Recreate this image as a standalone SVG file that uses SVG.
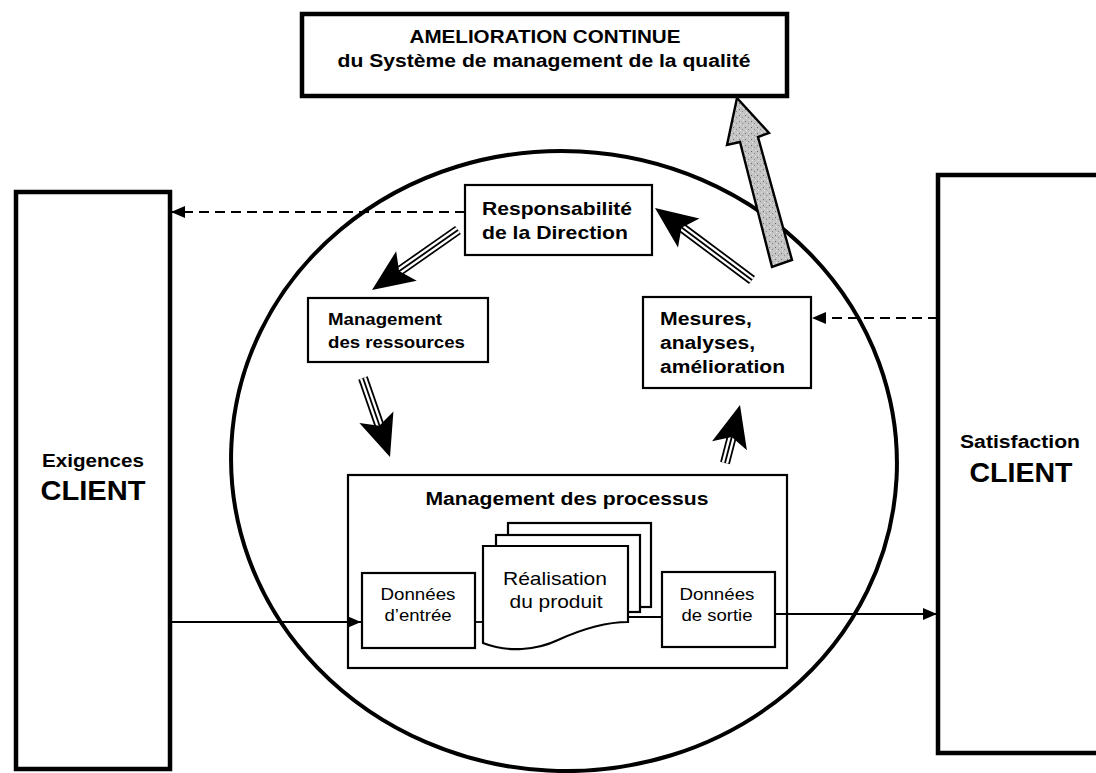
<svg xmlns="http://www.w3.org/2000/svg" xmlns:xlink="http://www.w3.org/1999/xlink" width="1096" height="773" viewBox="0 0 1096 773">
<style>
text{font-family:"Liberation Sans",Arial,Helvetica,sans-serif;fill:#000}
.b{font-weight:bold}
.n{font-weight:normal}
.box{fill:#fff;stroke:#000;stroke-width:2.2}
.frame{fill:none;stroke:#000;stroke-width:2.2}
.thick{fill:#fff;stroke:#000;stroke-width:4.5}
.dash{stroke:#000;stroke-width:2;stroke-dasharray:10 6;fill:none}
.line{stroke:#000;stroke-width:1.8;fill:none}
use.s1{stroke:#000;stroke-width:10;fill:none}
use.s2{stroke:#fff;stroke-width:6.5;fill:none}
use.s3{stroke:#000;stroke-width:1.8;fill:none}
</style>
<defs>
<marker id="ah" markerUnits="userSpaceOnUse" markerWidth="16" markerHeight="12" refX="14" refY="6" orient="auto">
<path d="M0,0 L14,6 L0,12 Z" fill="#000"/>
</marker>
<path id="hd" d="M0,0 L-42,-18 L-33,0 L-42,18 Z" fill="#000"/>
<path id="a1" d="M458,230 L398,272"/>
<path id="a2" d="M363,378 L380,427"/>
<path id="a3" d="M725,463 L732,436"/>
<path id="a4" d="M752,280 L681,227"/>
<pattern id="speck" width="6" height="6" patternUnits="userSpaceOnUse">
<rect width="6" height="6" fill="#c4c4c4"/>
<rect x="1" y="1" width="1" height="1" fill="#6e6e6e"/>
<rect x="4" y="3" width="1" height="1" fill="#8a8a8a"/>
<rect x="2" y="4" width="1" height="1" fill="#e8e8e8"/>
<rect x="5" y="0" width="1" height="1" fill="#e0e0e0"/>
</pattern>
</defs>
<rect width="1096" height="773" fill="#fff"/>

<g id="cycle">
<ellipse cx="564" cy="461" rx="333" ry="310" transform="rotate(3 564 461)" fill="none" stroke="#000" stroke-width="4"/>
</g>

<g id="processus">
<rect class="frame" x="348" y="475" width="439" height="193"/>
<text class="b" x="567" y="505" font-size="18" text-anchor="middle" textLength="283" lengthAdjust="spacingAndGlyphs">Management des processus</text>
</g>

<g id="connectors">
<line class="dash" x1="465" y1="212" x2="171" y2="212" marker-end="url(#ah)"/>
<line class="dash" x1="938" y1="318" x2="812" y2="318" marker-end="url(#ah)"/>
<line class="line" x1="172" y1="622" x2="361" y2="622" marker-end="url(#ah)"/>
<line class="line" x1="775" y1="614" x2="937" y2="614" marker-end="url(#ah)"/>
<line class="line" x1="475" y1="622" x2="485" y2="622"/>
<line class="line" x1="628" y1="617" x2="662" y2="617"/>
<use href="#a1" class="s1"/><use href="#a1" class="s2"/><use href="#a1" class="s3"/>
<use href="#hd" transform="translate(372,290) rotate(145.1)"/>
<use href="#a2" class="s1"/><use href="#a2" class="s2"/><use href="#a2" class="s3"/>
<use href="#hd" transform="translate(390,457) rotate(71.1)"/>
<use href="#a3" class="s1"/><use href="#a3" class="s2"/><use href="#a3" class="s3"/>
<use href="#hd" transform="translate(740,405) rotate(-75.5)"/>
<use href="#a4" class="s1"/><use href="#a4" class="s2"/><use href="#a4" class="s3"/>
<use href="#hd" transform="translate(655,208) rotate(-143.4)"/>
<polygon points="737,98 769,133 758,137 792,260 772,267 740,142 727,145" fill="url(#speck)" stroke="#000" stroke-width="2.4" stroke-linejoin="miter"/>
</g>

<g id="amelioration">
<rect class="thick" x="302" y="14" width="485" height="82"/>
<text class="b" x="545" y="43" font-size="18" text-anchor="middle" textLength="271" lengthAdjust="spacingAndGlyphs">AMELIORATION CONTINUE</text>
<text class="b" x="544" y="67" font-size="18" text-anchor="middle" textLength="413" lengthAdjust="spacingAndGlyphs">du Système de management de la qualité</text>
</g>

<g id="exigences">
<rect class="thick" x="16" y="192" width="154" height="577"/>
<text class="b" x="93" y="467" font-size="18" text-anchor="middle" textLength="102" lengthAdjust="spacingAndGlyphs">Exigences</text>
<text class="b" x="93" y="500" font-size="28" text-anchor="middle" textLength="105" lengthAdjust="spacingAndGlyphs">CLIENT</text>
</g>

<g id="satisfaction">
<rect class="thick" x="938" y="175" width="200" height="578"/>
<text class="b" x="1020" y="448" font-size="18" text-anchor="middle" textLength="120" lengthAdjust="spacingAndGlyphs">Satisfaction</text>
<text class="b" x="1021" y="482" font-size="28" text-anchor="middle" textLength="103" lengthAdjust="spacingAndGlyphs">CLIENT</text>
</g>

<g id="responsabilite">
<rect class="box" x="465" y="185" width="187" height="70"/>
<text class="b" x="557" y="215" font-size="19" text-anchor="middle" textLength="150" lengthAdjust="spacingAndGlyphs">Responsabilité</text>
<text class="b" x="555" y="239" font-size="19" text-anchor="middle" textLength="146" lengthAdjust="spacingAndGlyphs">de la Direction</text>
</g>

<g id="ressources">
<rect class="box" x="308" y="298" width="180" height="64"/>
<text class="b" x="328" y="325" font-size="17" textLength="114" lengthAdjust="spacingAndGlyphs">Management</text>
<text class="b" x="328" y="348" font-size="17" textLength="137" lengthAdjust="spacingAndGlyphs">des ressources</text>
</g>

<g id="mesures">
<rect class="box" x="643" y="297" width="168" height="91"/>
<text class="b" x="660" y="325" font-size="18" textLength="92" lengthAdjust="spacingAndGlyphs">Mesures,</text>
<text class="b" x="660" y="349" font-size="18" textLength="95" lengthAdjust="spacingAndGlyphs">analyses,</text>
<text class="b" x="660" y="373" font-size="18" textLength="125" lengthAdjust="spacingAndGlyphs">amélioration</text>
</g>

<g id="entree">
<rect class="box" x="362" y="573" width="113" height="75"/>
<text class="n" x="418" y="600" font-size="17" text-anchor="middle" textLength="75" lengthAdjust="spacingAndGlyphs">Données</text>
<text class="n" x="418" y="621" font-size="17" text-anchor="middle" textLength="67" lengthAdjust="spacingAndGlyphs">d’entrée</text>
</g>

<g id="realisation">
<rect class="box" x="508" y="523" width="143" height="84"/>
<rect class="box" x="496" y="535" width="144" height="77"/>
<path class="box" d="M483,546 H628 V622 C604,622 580,630 558,640 C537,650 508,653 483,643 Z"/>
<text class="n" x="555" y="585" font-size="19" text-anchor="middle" textLength="104" lengthAdjust="spacingAndGlyphs">Réalisation</text>
<text class="n" x="556" y="608" font-size="19" text-anchor="middle" textLength="93" lengthAdjust="spacingAndGlyphs">du produit</text>
</g>

<g id="sortie">
<rect class="box" x="662" y="572" width="113" height="75"/>
<text class="n" x="717" y="600" font-size="17" text-anchor="middle" textLength="75" lengthAdjust="spacingAndGlyphs">Données</text>
<text class="n" x="717" y="621" font-size="17" text-anchor="middle" textLength="71" lengthAdjust="spacingAndGlyphs">de sortie</text>
</g>
</svg>
